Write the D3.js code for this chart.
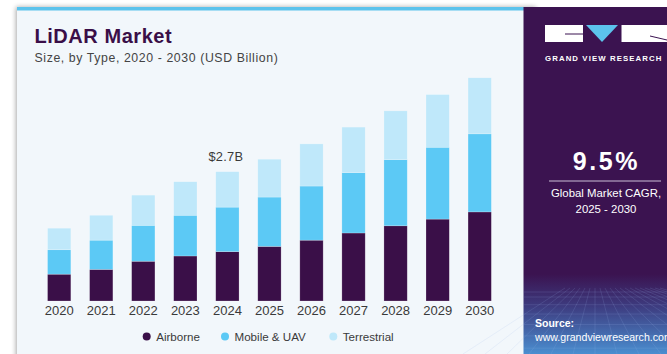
<!DOCTYPE html>
<html>
<head>
<meta charset="utf-8">
<script src="https://cdn.jsdelivr.net/npm/d3@7"></script>
<style>
  html, body { margin: 0; padding: 0; background: #ffffff; }
  svg { display: block; font-family: "Liberation Sans", Arial, sans-serif; }
</style>
</head>
<body>
<svg id="chart" width="667" height="354"></svg>
<script>
// LiDAR market size by type, USD billion
const years = ["2020","2021","2022","2023","2024","2025","2026","2027","2028","2029","2030"];
const airborne    = [0.56, 0.66, 0.83, 0.94, 1.03, 1.14, 1.27, 1.42, 1.57, 1.71, 1.86];
const mobileUav   = [0.51, 0.61, 0.75, 0.85, 0.93, 1.03, 1.13, 1.26, 1.38, 1.50, 1.63];
const terrestrial = [0.45, 0.52, 0.63, 0.70, 0.74, 0.79, 0.88, 0.95, 1.02, 1.10, 1.17];
const seriesNames = ["Airborne", "Mobile & UAV", "Terrestrial"];
const seriesColors = ["#3a0f48", "#5cc9f5", "#bfe8fa"];
const calloutYear = "2024";
const calloutText = "$2.7B";
const cagrValue = "9.5%";
const cagrLines = ["Global Market CAGR,", "2025 - 2030"];

const svg = d3.select("#chart");
const defs = svg.append("defs");

// card shadow
const shadow = defs.append("filter").attr("id", "shadow").attr("x", "-10%").attr("y", "-10%").attr("width", "120%").attr("height", "120%");
shadow.append("feGaussianBlur").attr("in", "SourceAlpha").attr("stdDeviation", 2.5);
shadow.append("feOffset").attr("dx", -1).attr("dy", 0).attr("result", "b");
shadow.append("feComponentTransfer").append("feFuncA").attr("type", "linear").attr("slope", 0.35);
const merge = shadow.append("feMerge");
merge.append("feMergeNode");
merge.append("feMergeNode").attr("in", "SourceGraphic");

// chart card
svg.append("rect").attr("x", 17).attr("y", 7).attr("width", 520).attr("height", 360)
  .attr("fill", "#f2f7fb").attr("filter", "url(#shadow)");
svg.append("rect").attr("x", 17).attr("y", 7).attr("width", 507).attr("height", 3.5).attr("fill", "#5cc3ec");

// side panel
const grad = defs.append("linearGradient").attr("id", "panelGrad").attr("x1", 0).attr("y1", 0).attr("x2", 0).attr("y2", 1);
grad.append("stop").attr("offset", "0%").attr("stop-color", "#3b1350");
grad.append("stop").attr("offset", "77%").attr("stop-color", "#3b1350");
grad.append("stop").attr("offset", "86%").attr("stop-color", "#3d3a7e");
grad.append("stop").attr("offset", "100%").attr("stop-color", "#4a8ed0");
svg.append("rect").attr("x", 523.5).attr("y", 7).attr("width", 144).attr("height", 347).attr("fill", "url(#panelGrad)");

// faint perspective grid at panel foot
const gridG = svg.append("g").attr("stroke", "#9fb8ea").attr("stroke-opacity", 0.22).attr("stroke-width", 0.7);
d3.range(0, 8).forEach(i => {
  const y = 292 + Math.pow(i, 1.35) * 5;
  gridG.append("line").attr("x1", 524).attr("x2", 667).attr("y1", y).attr("y2", y);
});
d3.range(-6, 14).forEach(i => {
  gridG.append("line").attr("x1", 595 + i * 5).attr("y1", 288).attr("x2", 595 + i * 22).attr("y2", 354);
});

// logo
const logo = svg.append("g");
logo.append("rect").attr("x", 545).attr("y", 25).attr("width", 38).attr("height", 17).attr("fill", "#ffffff");
logo.append("path").attr("d", "M586,25 L618,25 L602,42 Z").attr("fill", "#5cc3ec");
logo.append("rect").attr("x", 621.5).attr("y", 25).attr("width", 46).attr("height", 17).attr("fill", "#ffffff");
logo.append("line").attr("x1", 565).attr("x2", 583).attr("y1", 34).attr("y2", 34).attr("stroke", "#3b1350").attr("stroke-width", 1);
logo.append("line").attr("x1", 650).attr("x2", 667).attr("y1", 36).attr("y2", 40).attr("stroke", "#3b1350").attr("stroke-width", 1);
svg.append("text").attr("x", 545).attr("y", 60.5).attr("fill", "#ffffff").attr("font-size", 7.8)
  .attr("font-weight", "bold").attr("letter-spacing", 1.1).text("GRAND VIEW RESEARCH");

// CAGR block
svg.append("text").attr("x", 606.5).attr("y", 170).attr("text-anchor", "middle").attr("fill", "#ffffff")
  .attr("font-size", 25).attr("font-weight", "bold").attr("letter-spacing", 2.6).text(cagrValue);
svg.append("line").attr("x1", 549).attr("x2", 661).attr("y1", 181).attr("y2", 181).attr("stroke", "#cbbfd6").attr("stroke-width", 1);
cagrLines.forEach((t, i) => {
  svg.append("text").attr("x", 606).attr("y", 197 + i * 16).attr("text-anchor", "middle").attr("fill", "#ffffff")
    .attr("font-size", 11.4).text(t);
});
svg.append("text").attr("x", 535).attr("y", 327).attr("fill", "#ffffff").attr("font-size", 10.5).attr("font-weight", "bold").text("Source:");
svg.append("text").attr("x", 535).attr("y", 341).attr("fill", "#ffffff").attr("font-size", 10.6).text("www.grandviewresearch.com");

// titles
svg.append("text").attr("x", 34.5).attr("y", 43).attr("fill", "#3a0f48").attr("font-size", 20)
  .attr("font-weight", "bold").attr("letter-spacing", 0.55).text("LiDAR Market");
svg.append("text").attr("x", 34.5).attr("y", 61.5).attr("fill", "#444444").attr("font-size", 12.3)
  .attr("letter-spacing", 0.6).text("Size, by Type, 2020 - 2030 (USD Billion)");

// scales
const x = d3.scaleBand().domain(years).range([38.17, 500.72]).paddingInner(0.446).paddingOuter(0.223);
const y = d3.scaleLinear().domain([0, 5]).range([301, 301 - 5 * 47.9]);

const table = years.map((yr, i) => ({ year: yr, Airborne: airborne[i], "Mobile & UAV": mobileUav[i], Terrestrial: terrestrial[i] }));
const stacked = d3.stack().keys(seriesNames)(table);

const barsG = svg.append("g");
stacked.forEach((layer, k) => {
  barsG.selectAll(null).data(layer).enter().append("rect")
    .attr("x", d => x(d.data.year))
    .attr("width", x.bandwidth())
    .attr("y", d => y(d[1]))
    .attr("height", d => y(d[0]) - y(d[1]))
    .attr("fill", seriesColors[k])
    .attr("stroke", "#ffffff").attr("stroke-opacity", 0.35).attr("stroke-width", 0.6);
});

// x axis labels
const xAxis = d3.axisBottom(x).tickSize(0).tickPadding(0);
const ax = svg.append("g").attr("transform", "translate(0,305.5)").call(xAxis);
ax.select(".domain").remove();
ax.selectAll("text").attr("font-size", 13).attr("fill", "#3a3a3a").attr("dy", "0.71em")
  .attr("font-family", "Liberation Sans, Arial, sans-serif");

// value callout
const ci = years.indexOf(calloutYear);
const calloutTotal = airborne[ci] + mobileUav[ci] + terrestrial[ci];
svg.append("text").attr("x", x(calloutYear) + x.bandwidth() / 2 - 1.5).attr("y", y(calloutTotal) - 10.5)
  .attr("text-anchor", "middle").attr("fill", "#3a3a3a").attr("font-size", 12.8).attr("letter-spacing", 0.3).text(calloutText);

// legend
const legendX = [146.7, 225, 333.3];
const legend = svg.append("g");
seriesNames.forEach((n, i) => {
  legend.append("circle").attr("cx", legendX[i]).attr("cy", 336.5).attr("r", 4).attr("fill", seriesColors[i]);
  legend.append("text").attr("x", legendX[i] + 9.5).attr("y", 340.5).attr("fill", "#3a3a3a").attr("font-size", 11.6).text(n);
});
</script>
</body>
</html>
